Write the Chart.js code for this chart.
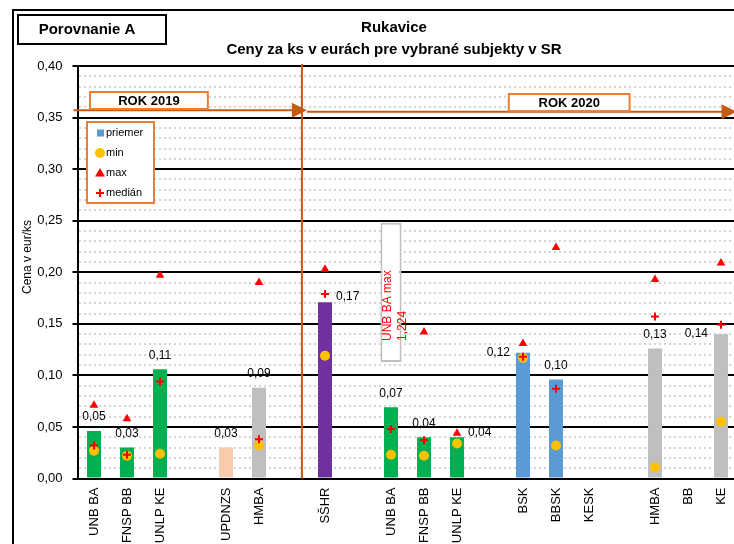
<!DOCTYPE html>
<html>
<head>
<meta charset="utf-8">
<title>Rukavice</title>
<script src="https://cdn.jsdelivr.net/npm/chart.js"></script>
<style>
  html, body { margin: 0; padding: 0; background: #fff; overflow: hidden; }
  #wrap { position: absolute; left: 0; top: 0; width: 760px; height: 580px; }
</style>
</head>
<body>
<div id="wrap"><canvas id="rukaviceChart" width="760" height="580"></canvas></div>
<script>
// categories, empty strings are the gaps between groups
const categories = ['UNB BA', 'FNSP BB', 'UNLP KE', '', 'UPDNZS', 'HMBA', '', 'SŠHR', '',
    'UNB BA', 'FNSP BB', 'UNLP KE', '', 'BSK', 'BBSK', 'KESK', '', 'HMBA', 'BB', 'KE'];
const priemer = [0.046, 0.030, 0.106, null, 0.030, 0.088, null, 0.171, null,
    0.069, 0.040, 0.040, null, 0.122, 0.096, null, null, 0.126, null, 0.140];
const minimum = [0.027, 0.022, 0.024, null, null, 0.032, null, 0.119, null,
    0.023, 0.022, 0.034, null, 0.117, 0.032, null, null, 0.011, null, 0.055];
const maximum = [0.071, 0.058, 0.197, null, null, 0.190, null, 0.203, null,
    1.224, 0.142, 0.044, null, 0.131, 0.224, null, null, 0.193, null, 0.209];
const median = [0.032, 0.023, 0.094, null, null, 0.038, null, 0.179, null,
    0.048, 0.037, null, null, 0.118, 0.087, null, null, 0.157, null, 0.149];
const yTickLabels = ['0,00', '0,05', '0,10', '0,15', '0,20', '0,25', '0,30', '0,35', '0,40'];
const titleLines = ['Rukavice', 'Ceny za ks v eurách pre vybrané subjekty v SR'];
const yTitle = 'Cena v eur/ks';
const yearLabels = ['ROK 2019', 'ROK 2020'];
const legendLabels = ['priemer', 'min', 'max', 'medián'];
// UNB BA 2020 max is off the scale, shown as a note box instead
const noteIndex = 9;
const noteRange = [0.113, 0.248];

// colours
const GREEN = '#00B050', PEACH = '#F8CBAD', GREY = '#BFBFBF', PURPLE = '#7030A0', BLUE = '#5B9BD5';
const barColors = [GREEN, GREEN, GREEN, null, PEACH, GREY, null, PURPLE, null,
    GREEN, GREEN, GREEN, null, BLUE, BLUE, null, null, GREY, null, GREY];
const minColor = '#FFC000', maxColor = '#FF0000', medColor = '#FF0000';
const arrowColor = '#C55A11', boxColor = '#ED7D31';
// where the value label sits next to each bar
const labelPos = ['top', 'top', 'top', null, 'top', 'top', null, 'right', null,
    'top', 'top', 'right', null, 'left', 'top', null, null, 'top', null, 'left'];

const FONT = '"Liberation Sans", Arial, sans-serif';
Chart.defaults.font.family = FONT;
Chart.defaults.color = '#000';

const fmt = (v, d) => v.toFixed(d).replace('.', ',');
const isMajor = c => !!c.tick && Math.round(c.tick.value * 100) % 5 === 0;

function arrow(c, x1, x2, y) {
    c.beginPath(); c.moveTo(x1, y); c.lineTo(x2 - 12, y); c.stroke();
    c.beginPath(); c.moveTo(x2, y); c.lineTo(x2 - 15, y - 7.5); c.lineTo(x2 - 15, y + 7.5);
    c.closePath(); c.fill();
}

function yearBox(c, text, x1, x2, y1, y2) {
    c.fillStyle = '#fff';
    c.fillRect(x1, y1, x2 - x1, y2 - y1);
    c.strokeStyle = boxColor; c.lineWidth = 2;
    c.strokeRect(x1, y1, x2 - x1, y2 - y1);
    c.fillStyle = '#000';
    c.font = 'bold 13px ' + FONT;
    c.textAlign = 'center'; c.textBaseline = 'middle';
    c.fillText(text, (x1 + x2) / 2, (y1 + y2) / 2 + 1);
}

const decor = {
    id: 'decor',
    beforeDraw(chart) {
        const c = chart.ctx;
        c.save();
        c.fillStyle = '#fff';
        c.fillRect(0, 0, chart.width, chart.height);
        c.strokeStyle = '#000'; c.lineWidth = 2;
        c.strokeRect(13, 10, chart.width, chart.height);   // outer frame
        c.strokeRect(18, 15, 148, 29);
        c.fillStyle = '#000';
        c.font = 'bold 15px ' + FONT;
        c.textAlign = 'center'; c.textBaseline = 'middle';
        c.fillText('Porovnanie A', 87, 30);
        c.fillText(titleLines[0], 394, 28);
        c.fillText(titleLines[1], 394, 50);
        // y axis title
        c.font = '12px ' + FONT;
        c.translate(28, 257);
        c.rotate(-Math.PI / 2);
        c.fillText(yTitle, 0, 0);
        c.restore();
    },
    beforeDatasetsDraw(chart) {
        const {ctx: c, scales: {x, y}, chartArea: a} = chart;
        c.save();
        c.strokeStyle = arrowColor; c.fillStyle = arrowColor; c.lineWidth = 2;
        const xs = x.getPixelForValue(6.3);
        c.beginPath(); c.moveTo(xs, a.top - 2); c.lineTo(xs, a.bottom); c.stroke();
        const yA = y.getPixelForValue(0.357);
        arrow(c, a.left - 4, xs + 5, yA);
        arrow(c, xs + 5, a.right - 1, yA + 1.5);
        yearBox(c, yearLabels[0], x.getPixelForValue(-0.12), x.getPixelForValue(3.45),
            y.getPixelForValue(0.3748), y.getPixelForValue(0.3583));
        yearBox(c, yearLabels[1], x.getPixelForValue(12.57), x.getPixelForValue(16.23),
            y.getPixelForValue(0.3728), y.getPixelForValue(0.3563));
        c.restore();
    },
    afterDatasetsDraw(chart) {
        const c = chart.ctx;
        c.save();
        // value labels
        const bars = chart.getDatasetMeta(0).data;
        c.fillStyle = '#000';
        c.font = '12px ' + FONT;
        priemer.forEach((v, i) => {
            if (v === null) return;
            const {x, y, width} = bars[i].getProps(['x', 'y', 'width'], true);
            const txt = fmt(v, 2);
            c.textBaseline = 'middle';
            if (labelPos[i] === 'right') {
                c.textAlign = 'left'; c.fillText(txt, x + width / 2 + 4, y - 5);
            } else if (labelPos[i] === 'left') {
                c.textAlign = 'right'; c.fillText(txt, x - width / 2 - 6, y);
            } else {
                c.textAlign = 'center'; c.fillText(txt, x, y - 14);
            }
        });
        // note inside the off-scale box
        const nb = chart.getDatasetMeta(1).data[noteIndex];
        const bottom = Math.max(nb.y, nb.base);
        c.fillStyle = '#FF0000';
        c.font = '12px ' + FONT;
        c.textAlign = 'left'; c.textBaseline = 'middle';
        [['UNB BA max', -3], [fmt(maximum[noteIndex], 3), 12]].forEach(([t, dx]) => {
            c.save();
            c.translate(nb.x + dx, bottom - 21);
            c.rotate(-Math.PI / 2);
            c.fillText(t, 0, 0);
            c.restore();
        });
        // legend
        c.fillStyle = '#fff';
        c.fillRect(87, 122, 67, 81);
        c.strokeStyle = boxColor; c.lineWidth = 2;
        c.strokeRect(87, 122, 67, 81);
        c.font = '11px ' + FONT;
        c.textAlign = 'left'; c.textBaseline = 'middle';
        legendLabels.forEach((t, k) => {
            const ly = 133 + k * 20, lx = 100;
            if (k === 0) { c.fillStyle = BLUE; c.fillRect(lx - 3, ly - 3.5, 7, 7); }
            if (k === 1) { c.fillStyle = minColor; c.beginPath(); c.arc(lx, ly, 5, 0, Math.PI * 2); c.fill(); }
            if (k === 2) {
                c.fillStyle = maxColor; c.beginPath();
                c.moveTo(lx, ly - 5); c.lineTo(lx + 5, ly + 3.5); c.lineTo(lx - 5, ly + 3.5);
                c.closePath(); c.fill();
            }
            if (k === 3) {
                c.strokeStyle = medColor; c.lineWidth = 2; c.beginPath();
                c.moveTo(lx - 4, ly); c.lineTo(lx + 4, ly); c.moveTo(lx, ly - 4); c.lineTo(lx, ly + 4);
                c.stroke();
            }
            c.fillStyle = '#000';
            c.fillText(t, 106, ly);
        });
        c.restore();
    }
};

const noteData = categories.map((_, i) => i === noteIndex ? noteRange : null);

const ctx = document.getElementById('rukaviceChart').getContext('2d');
const myChart = new Chart(ctx, {
    type: 'bar',
    data: {
        labels: categories,
        datasets: [
            {label: 'priemer', data: priemer, backgroundColor: barColors, borderWidth: 0,
                barPercentage: 0.53, categoryPercentage: 0.8, grouped: false, order: 10},
            {label: 'note', data: noteData, backgroundColor: '#fff', borderColor: '#BFBFBF',
                borderWidth: 2, borderSkipped: false, barPercentage: 0.8, categoryPercentage: 0.8,
                grouped: false, order: 9},
            {type: 'line', label: 'min', data: minimum, showLine: false, pointStyle: 'circle',
                pointRadius: 5, pointBorderWidth: 0, pointBackgroundColor: minColor,
                pointBorderColor: minColor, order: 3},
            {type: 'line', label: 'max', data: maximum, showLine: false, pointStyle: 'triangle',
                pointRadius: 5, pointBorderWidth: 0, pointBackgroundColor: maxColor,
                pointBorderColor: maxColor, order: 2},
            {type: 'line', label: 'medián', data: median, showLine: false, pointStyle: 'cross',
                pointRadius: 4, pointBorderWidth: 2, pointBorderColor: medColor, order: 1}
        ]
    },
    options: {
        responsive: false,
        animation: false,
        devicePixelRatio: 1,
        events: [],
        layout: {padding: {top: 66, left: 0, right: 22.5, bottom: 0}},
        plugins: {legend: {display: false}, tooltip: {enabled: false}, title: {display: false}},
        scales: {
            x: {
                grid: {display: false},
                border: {display: true, color: '#000', width: 2},
                ticks: {autoSkip: false, minRotation: 90, maxRotation: 90, padding: 1,
                    font: {size: 13}, color: '#000'},
                afterFit(s) { s.height = 101.5; }
            },
            y: {
                min: 0, max: 0.4,
                ticks: {
                    stepSize: 0.01, autoSkip: false, padding: 10, font: {size: 13}, color: '#000',
                    callback(v) {
                        const k = Math.round(v * 100);
                        return k % 5 === 0 ? yTickLabels[k / 5] : '';
                    }
                },
                grid: {
                    color: c => isMajor(c) ? '#000' : '#D4D4D4',
                    lineWidth: 2,
                    tickColor: c => isMajor(c) ? '#000' : 'rgba(0,0,0,0)',
                    tickLength: 5, tickWidth: 2
                },
                border: {display: true, color: '#000', width: 2,
                    dash: c => (c.tick && !isMajor(c)) ? [2, 3] : []},
                afterFit(s) { s.width = 77.5; }
            }
        }
    },
    plugins: [decor]
});
</script>
</body>
</html>
